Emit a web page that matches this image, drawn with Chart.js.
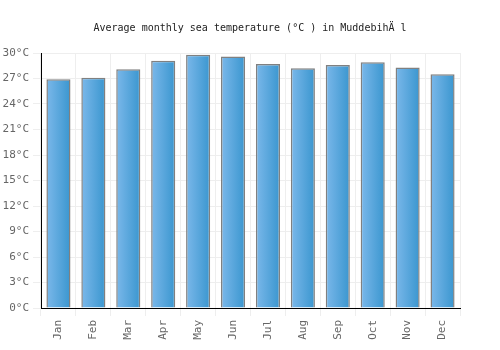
<!DOCTYPE html>
<html>
<head>
<meta charset="utf-8">
<script src="https://cdn.jsdelivr.net/npm/chart.js@4/dist/chart.umd.min.js"></script>
<style>
  body { margin: 0; background: #fff; }
  #wrap { width: 500px; height: 350px; }
</style>
</head>
<body>
<div id="wrap"><canvas id="myChart" width="500" height="350"></canvas></div>
<script>
const months = ['Jan', 'Feb', 'Mar', 'Apr', 'May', 'Jun', 'Jul', 'Aug', 'Sep', 'Oct', 'Nov', 'Dec'];
const seaTemp = [26.9, 27.1, 28.1, 29.1, 29.8, 29.6, 28.7, 28.2, 28.6, 28.9, 28.3, 27.5];
const yTicks = [0, 3, 6, 9, 12, 15, 18, 21, 24, 27, 30];
const titleText = 'Average monthly sea temperature (°C ) in MuddebihÄ l';

const mono = 'DejaVu Sans Mono';
const barPct = 0.69;

function barGradient(c) {
  let chart = c.chart;
  let xs = chart.scales && chart.scales.x;
  if (!xs || !chart.chartArea || c.dataIndex === undefined) return '#5aa8e0';
  let cx = xs.getPixelForValue(c.dataIndex);
  let w = (chart.chartArea.right - chart.chartArea.left) / months.length * barPct;
  let g = chart.ctx.createLinearGradient(cx - w / 2, 0, cx + w / 2, 0);
  g.addColorStop(0, '#7bb8ea');
  g.addColorStop(1, '#3a96cf');
  return g;
}

function init () {
  let ctx = document.getElementById("myChart").getContext("2d");
  new Chart(ctx, {
    type: 'bar',
    data: {
      labels: months,
      datasets: [{
        label: 'Sea temperature',
        data: seaTemp,
        backgroundColor: barGradient,
        borderColor: '#808080',
        borderWidth: 1.5,
        categoryPercentage: 1,
        barPercentage: barPct
      }]
    },
    options: {
      responsive: false,
      animation: false,
      layout: { padding: 0 },
      plugins: {
        legend: { display: false },
        tooltip: { enabled: false },
        title: {
          display: true,
          text: titleText,
          color: '#222',
          font: { family: mono, size: 10, weight: 'normal' },
          padding: { top: 22, bottom: 19 }
        }
      },
      scales: {
        x: {
          grid: { color: '#eeeeee', offset: true },
          border: { color: '#000', width: 1 },
          ticks: {
            color: '#666',
            font: { family: mono, size: 11 },
            maxRotation: 90,
            minRotation: 90,
            padding: 4
          },
          afterFit: (s) => { s.height = 42; }
        },
        y: {
          min: 0,
          max: 30,
          grid: { color: '#eeeeee' },
          border: { color: '#000', width: 1 },
          afterBuildTicks: (s) => { s.ticks = yTicks.map(v => ({ value: v })); },
          ticks: {
            color: '#666',
            font: { family: mono, size: 11 },
            padding: 4,
            callback: (v) => v + '°C'
          },
          afterFit: (s) => { s.width = 41; }
        },
        // empty right-hand axis, only keeps the gap on the right
        yRight: {
          position: 'right',
          min: 0,
          max: 30,
          grid: { drawOnChartArea: false, display: false },
          border: { display: false },
          ticks: { display: false },
          afterFit: (s) => { s.width = 40; }
        }
      }
    }
  });
}

init();
</script>
</body>
</html>
